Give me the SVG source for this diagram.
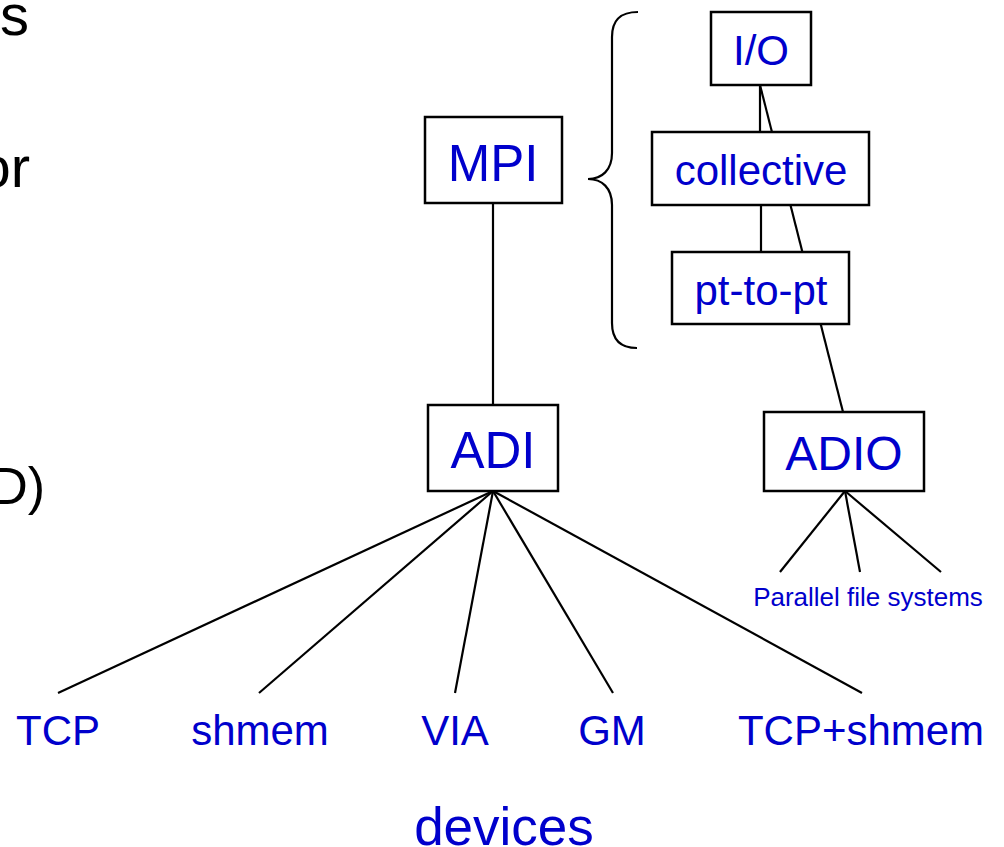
<svg xmlns="http://www.w3.org/2000/svg" width="1004" height="847" viewBox="0 0 1004 847">
<style>
.box{fill:#fff;stroke:#000;stroke-width:2.5}
.lbl{font-family:"Liberation Sans",Arial,sans-serif;fill:#0000CC;text-anchor:middle}
.side{font-family:"Liberation Sans",Arial,sans-serif;fill:#000;text-anchor:end}
.conn line,.conn path{stroke:#000;stroke-width:2.2;fill:none}
</style>
<rect width="1004" height="847" fill="#fff"/>
<g id="side-text">
<text class="side" x="29" y="35" font-size="58">s</text>
<text class="side" x="30" y="187" font-size="58">or</text>
<text class="side" x="45" y="504" font-size="52">D)</text>
</g>
<g class="conn" id="connectors">
<line x1="493" y1="203" x2="493" y2="405"/>
<line x1="760" y1="85" x2="760" y2="132"/>
<line x1="761" y1="205" x2="761" y2="252"/>
<line x1="760" y1="85" x2="843" y2="412"/>
<line x1="493" y1="491" x2="58" y2="693"/>
<line x1="493" y1="491" x2="259" y2="693"/>
<line x1="493" y1="491" x2="455" y2="693"/>
<line x1="493" y1="491" x2="613" y2="693"/>
<line x1="493" y1="491" x2="862" y2="693"/>
<line x1="845" y1="491" x2="780" y2="572"/>
<line x1="845" y1="491" x2="860" y2="572"/>
<line x1="845" y1="491" x2="941" y2="572"/>
<path d="M638,12 C620,12 612,20 612,37 L612,153 C612,170 602,179 588,179 C602,179 612,188 612,205 L612,323 C612,340 620,348 637,348" stroke-width="2.6"/>
</g>
<g id="io"><rect class="box" x="711" y="12" width="100" height="73"/><text class="lbl" x="761" y="65" font-size="42">I/O</text></g>
<g id="collective"><rect class="box" x="652" y="132" width="217" height="73"/><text class="lbl" x="761" y="185" font-size="42">collective</text></g>
<g id="pt-to-pt"><rect class="box" x="672" y="252" width="177" height="72"/><text class="lbl" x="761" y="305" font-size="42">pt-to-pt</text></g>
<g id="mpi"><rect class="box" x="425" y="117" width="137" height="86"/><text class="lbl" x="493" y="181" font-size="51">MPI</text></g>
<g id="adi"><rect class="box" x="428" y="405" width="130" height="86"/><text class="lbl" x="493" y="468" font-size="51">ADI</text></g>
<g id="adio"><rect class="box" x="764" y="412" width="160" height="79"/><text class="lbl" x="844" y="470" font-size="48">ADIO</text></g>
<g id="pfs"><text class="lbl" x="868" y="606" font-size="26">Parallel file systems</text></g>
<g id="tcp"><text class="lbl" x="58" y="745" font-size="42">TCP</text></g>
<g id="shmem"><text class="lbl" x="260" y="745" font-size="42">shmem</text></g>
<g id="via"><text class="lbl" x="455" y="745" font-size="42">VIA</text></g>
<g id="gm"><text class="lbl" x="612" y="745" font-size="42">GM</text></g>
<g id="tcp-shmem"><text class="lbl" x="861" y="745" font-size="42">TCP+shmem</text></g>
<g id="devices"><text class="lbl" x="504" y="845" font-size="53">devices</text></g>
</svg>
